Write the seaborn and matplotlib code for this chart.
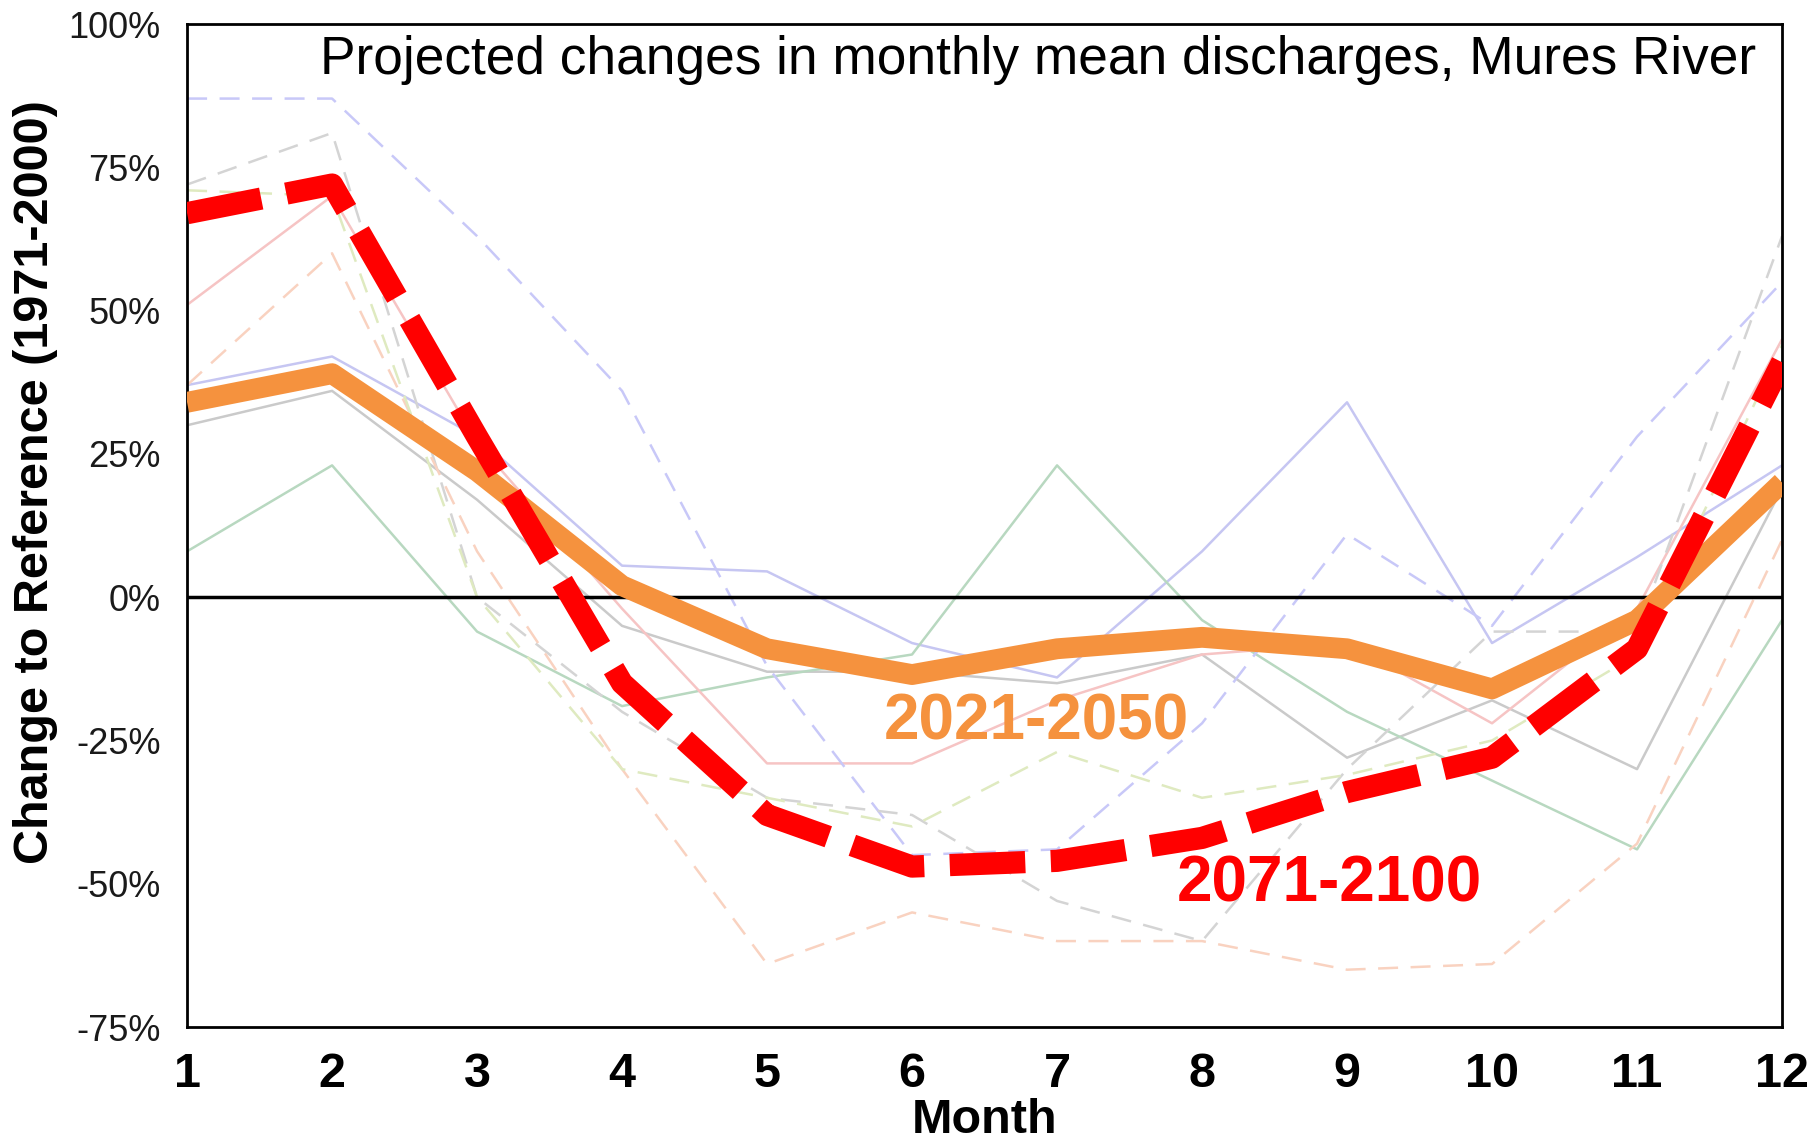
import pandas as pd
import seaborn as sns
import matplotlib.pyplot as plt
from matplotlib.ticker import PercentFormatter

months = list(range(1, 13))

# faint ensemble members (change in %), solid = near future, dashed = far future
blue_solid = [37, 42, 28, 5.5, 4.5, -8, -14, 8, 34, -8, 7, 23]
grey_solid = [30, 36, 17, -5, -13, -13, -15, -10, -28, -18, -30, 19]
green_solid = [8, 23, -6, -19, -14, -10, 23, -4, -20, -32, -44, -4]
pink_solid = [51, 70, 27, -2, -29, -29, -18, -10, -8, -22, -2, 45]
blue_dashed = [87, 87, 63, 36, -12, -45, -44, -22, 11, -5, 28, 55]
grey_dashed = [72, 81, 0, -20, -35, -38, -53, -60, -30, -6, -6, 63]
peach_dashed = [37, 60, 8, -30, -64, -55, -60, -60, -65, -64, -43, 10]
yellow_dashed = [71, 70, 0, -30, -35, -40, -27, -35, -31, -25, -10, 44]

# ensemble means
mean_2021_2050 = [34, 39, 22, 2, -9, -13.5, -9, -7, -9, -16, -4, 20]
mean_2071_2100 = [67, 72, 28, -15, -38, -47, -46, -42, -34, -28, -9, 41]

yticks = [-75, -50, -25, 0, 25, 50, 75, 100]

members = [
    (blue_solid, "#c6c6f2", "-"),
    (grey_solid, "#cacaca", "-"),
    (green_solid, "#b8d8c0", "-"),
    (pink_solid, "#f6c4c4", "-"),
    (blue_dashed, "#c8c8f8", (0, (8, 5))),
    (grey_dashed, "#d4d4d4", (0, (8, 5))),
    (peach_dashed, "#f9d2c0", (0, (8, 5))),
    (yellow_dashed, "#dfeac0", (0, (8, 5))),
]

sns.set_style("white")
plt.rcParams["font.family"] = ["Liberation Sans", "DejaVu Sans"]
plt.rcParams["axes.unicode_minus"] = False
for key in ["text.color", "axes.labelcolor", "xtick.color", "ytick.color"]:
    plt.rcParams[key] = "black"

fig = plt.figure(figsize=(18.11, 11.46), dpi=100)
ax = fig.add_axes([0.1033, 0.1038, 0.8807, 0.8752])

for vals, col, ls in members:
    df = pd.DataFrame({"month": months, "change": vals})
    sns.lineplot(data=df, x="month", y="change", ax=ax, color=col,
                 linewidth=1.8, linestyle=ls)

ax.axhline(0, color="black", linewidth=2.5, zorder=3)

df_near = pd.DataFrame({"month": months, "change": mean_2021_2050})
sns.lineplot(data=df_near, x="month", y="change", ax=ax, color="#f5923e",
             linewidth=15, solid_joinstyle="round", solid_capstyle="butt",
             zorder=4)

df_far = pd.DataFrame({"month": months, "change": mean_2071_2100})
sns.lineplot(data=df_far, x="month", y="change", ax=ax, color="#ff0000",
             linewidth=16, linestyle=(0, (3.4, 1.15)),
             dash_capstyle="butt", dash_joinstyle="round", zorder=5)

ax.text(6.86, -21.8, "2021-2050", color="#f5923e", fontsize=46,
        fontweight="bold", ha="center", va="center", zorder=6)
ax.text(8.88, -50.1, "2071-2100", color="#ff0000", fontsize=46,
        fontweight="bold", ha="center", va="center", zorder=6)
ax.text(0.984, 0.964, "Projected changes in monthly mean discharges, Mures River",
        transform=ax.transAxes, ha="right", va="center", fontsize=38.3,
        color="black")

ax.set_xlim(1, 12)
ax.set_ylim(-75, 100)
ax.set_xticks(months)
ax.set_yticks(yticks)
ax.yaxis.set_major_formatter(PercentFormatter(xmax=100, decimals=0))
ax.tick_params(axis="x", direction="out", length=10, width=1.5, pad=8,
               labelsize=35, colors="black")
ax.tick_params(axis="y", direction="out", length=10, width=1.5, pad=9,
               labelsize=26, colors="black", labelcolor="#1a1a1a")
for lab in ax.get_xticklabels():
    lab.set_fontweight("bold")
for sp in ax.spines.values():
    sp.set_color("black")
    sp.set_linewidth(2)

ax.set_xlabel("Month", fontsize=35, fontweight="bold", labelpad=1)
ax.set_ylabel("Change to Reference (1971-2000)", fontsize=35,
              fontweight="bold", va="center")
ax.yaxis.set_label_coords(-0.0953, 0.543)

fig.savefig("out.png", dpi=100)
plt.close(fig)
